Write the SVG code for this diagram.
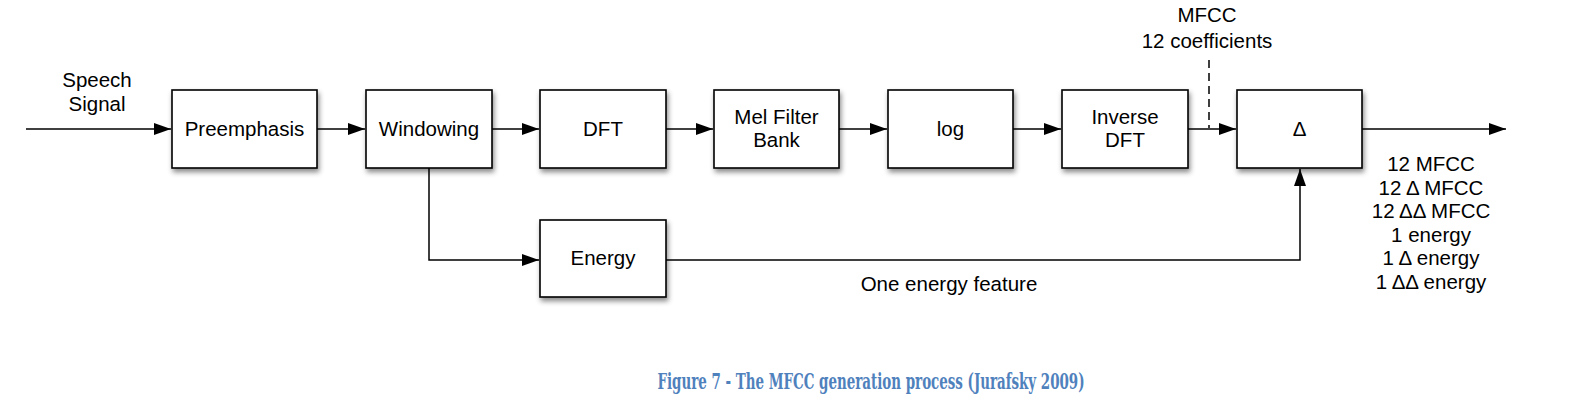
<svg xmlns="http://www.w3.org/2000/svg" width="1576" height="402" viewBox="0 0 1576 402">
<style>
.box{fill:#fff;stroke:#000;stroke-width:1.6;filter:url(#sh)}
.t{font-family:"Liberation Sans",Arial,sans-serif;font-size:20.5px;fill:#000;text-anchor:middle}
.ln{fill:none;stroke:#000;stroke-width:1.5}
.arr{marker-end:url(#ah)}
.cap{font-family:"DejaVu Serif Condensed","DejaVu Serif","Liberation Serif",serif;font-weight:bold;font-size:23px;fill:#4F81BD;text-anchor:middle}
</style>
<defs>
<filter id="sh" x="-20%" y="-20%" width="140%" height="150%">
<feDropShadow dx="1.5" dy="3.5" stdDeviation="2.5" flood-color="#000" flood-opacity="0.45"/>
</filter>
<marker id="ah" markerUnits="userSpaceOnUse" markerWidth="18" markerHeight="13" refX="17" refY="6" orient="auto">
<path d="M0,0 L17,6 L0,12 Z" fill="#000"/>
</marker>
</defs>
<rect width="1576" height="402" fill="#fff"/>
<g id="connectors">
<line class="ln arr" x1="26" y1="129" x2="171" y2="129"/>
<line class="ln arr" x1="317" y1="129" x2="365" y2="129"/>
<line class="ln arr" x1="492" y1="129" x2="539" y2="129"/>
<line class="ln arr" x1="666" y1="129" x2="713" y2="129"/>
<line class="ln arr" x1="839" y1="129" x2="887" y2="129"/>
<line class="ln arr" x1="1013" y1="129" x2="1061" y2="129"/>
<line class="ln arr" x1="1188" y1="129" x2="1236" y2="129"/>
<line class="ln arr" x1="1362" y1="129" x2="1506" y2="129"/>
<line class="ln" x1="1209" y1="60" x2="1209" y2="128" stroke-dasharray="8,5"/>
<polyline class="ln arr" points="429,168 429,260 539,260"/>
<polyline class="ln arr" points="666,260 1300,260 1300,169"/>
</g>
<g id="speech-signal">
<text class="t" x="97" y="87">Speech</text>
<text class="t" x="97" y="111">Signal</text>
</g>
<g id="preemphasis">
<rect class="box" x="172" y="90" width="145" height="78"/>
<text class="t" x="244.5" y="136">Preemphasis</text>
</g>
<g id="windowing">
<rect class="box" x="366" y="90" width="126" height="78"/>
<text class="t" x="429" y="136">Windowing</text>
</g>
<g id="dft">
<rect class="box" x="540" y="90" width="126" height="78"/>
<text class="t" x="603" y="136">DFT</text>
</g>
<g id="mel-filter-bank">
<rect class="box" x="714" y="90" width="125" height="78"/>
<text class="t" x="776.5" y="123.5">Mel Filter</text>
<text class="t" x="776.5" y="147">Bank</text>
</g>
<g id="log">
<rect class="box" x="888" y="90" width="125" height="78"/>
<text class="t" x="950.5" y="136">log</text>
</g>
<g id="inverse-dft">
<rect class="box" x="1062" y="90" width="126" height="78"/>
<text class="t" x="1125" y="123.5">Inverse</text>
<text class="t" x="1125" y="147">DFT</text>
</g>
<g id="delta">
<rect class="box" x="1237" y="90" width="125" height="78"/>
<text class="t" x="1299.5" y="136">Δ</text>
</g>
<g id="energy">
<rect class="box" x="540" y="220" width="126" height="77"/>
<text class="t" x="603" y="265">Energy</text>
</g>
<g id="mfcc-label">
<text class="t" x="1207" y="22">MFCC</text>
<text class="t" x="1207" y="48">12 coefficients</text>
</g>
<g id="energy-feature-label">
<text class="t" x="949" y="291">One energy feature</text>
</g>
<g id="output-features">
<text class="t" x="1431" y="171">12 MFCC</text>
<text class="t" x="1431" y="194.5">12 Δ MFCC</text>
<text class="t" x="1431" y="218">12 ΔΔ MFCC</text>
<text class="t" x="1431" y="241.7">1 energy</text>
<text class="t" x="1431" y="265.4">1 Δ energy</text>
<text class="t" x="1431" y="289">1 ΔΔ energy</text>
</g>
<g id="caption">
<text class="cap" x="871" y="389" textLength="427" lengthAdjust="spacingAndGlyphs">Figure 7 - The MFCC generation process (Jurafsky 2009)</text>
</g>
</svg>
